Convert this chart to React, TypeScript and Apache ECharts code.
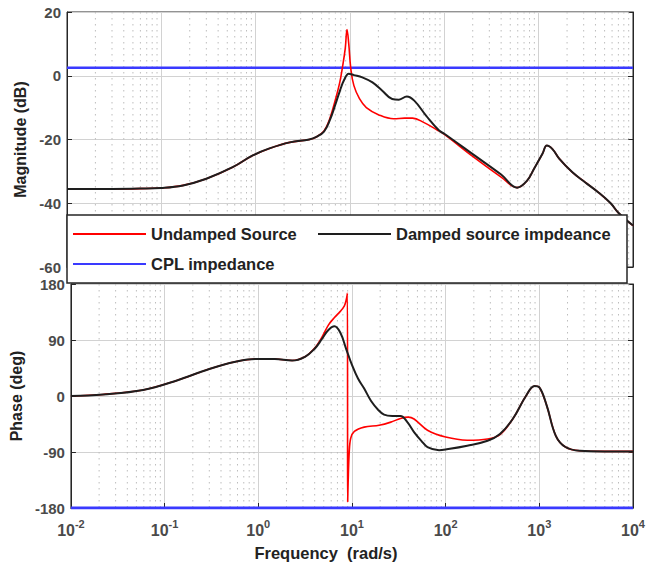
import React, { useEffect, useRef } from "react";
import * as echarts from "echarts";

const FONT = "'Liberation Sans', Arial, Helvetica, sans-serif";

// ---- Magnitude (dB) ----
const magFreqUndamped = [0.01, 0.03, 0.059, 0.1, 0.17, 0.3, 0.57, 0.93, 1.4, 2.3, 3.7, 4.4, 5.3, 6.1, 7.0, 7.8, 8.3, 8.9, 9.3, 9.7, 10.2, 11, 12.6, 14.9, 20, 29, 38, 46, 61, 84, 100, 200, 400, 592, 750, 900, 1100, 1220, 1400, 1650, 2280, 3100, 4300, 5800, 7000, 10000];
const magUndamped = [-35.5, -35.5, -35.4, -35.2, -34.4, -32.3, -28.7, -25.0, -22.8, -20.9, -20.0, -19.2, -17.3, -13.5, -7.5, -2.0, 2.5, 8.5, 14.5, 10.0, 2.2, -3.1, -7.2, -10.0, -12.2, -13.5, -13.3, -13.3, -14.7, -17.0, -18.4, -25.3, -31.8, -35.1, -33.0, -29.0, -24.4, -21.9, -23.0, -26.0, -30.3, -33.4, -36.6, -40.0, -43.0, -47.0];

const magFreqDamped = [0.01, 0.03, 0.059, 0.1, 0.17, 0.3, 0.57, 0.93, 1.4, 2.3, 3.7, 4.4, 5.3, 6.1, 7.0, 7.8, 8.7, 9.7, 11, 13.5, 17.3, 22, 28, 33, 40, 48, 64, 88, 100, 200, 400, 592, 750, 900, 1100, 1220, 1400, 1650, 2280, 3100, 4300, 5800, 7000, 10000];
const magDamped = [-35.5, -35.5, -35.4, -35.2, -34.4, -32.3, -28.7, -25.0, -22.8, -20.9, -20.0, -19.2, -17.5, -14.0, -9.0, -4.8, -1.2, 0.6, 0.2, -0.5, -2.1, -4.7, -7.3, -7.5, -6.5, -7.8, -12.5, -17.2, -18.2, -24.6, -31.0, -35.1, -33.0, -29.0, -24.4, -21.9, -23.0, -26.0, -30.3, -33.4, -36.6, -40.0, -43.0, -47.0];

const cplFreq = [0.01, 10000];
const cplMag = [2.5, 2.5];

// ---- Phase (deg) ----
const phaseFreqUndamped = [0.01, 0.022, 0.059, 0.133, 0.3, 0.57, 0.93, 1.5, 2.3, 3.15, 4.0, 4.8, 5.6, 6.5, 7.5, 8.3, 8.7, 8.95, 9.0, 9.1, 9.35, 9.7, 10.6, 13.5, 19.5, 26, 33, 40, 46, 64, 100, 170, 280, 380, 520, 720, 890, 1000, 1200, 1500, 1900, 2700, 5000, 10000];
const phaseUndamped = [0, 2.5, 9.7, 24.6, 43.4, 55, 59.5, 59.5, 57, 63, 77, 95, 114, 126, 136, 145, 155, 165, -170, -140, -90, -68, -57, -50, -47, -42, -36, -34, -37, -55, -66, -71, -69, -62, -37, 0, 16, 14, -15.5, -64, -82, -88, -89, -89];

const phaseFreqDamped = [0.01, 0.022, 0.059, 0.133, 0.3, 0.57, 0.93, 1.5, 2.3, 3.15, 4.0, 4.8, 5.6, 6.5, 7.5, 8.7, 10, 11.6, 13.5, 16, 19, 22, 27, 33, 39, 46, 55, 64, 85, 100, 170, 280, 380, 520, 720, 890, 1000, 1200, 1500, 1900, 2700, 5000, 10000];
const phaseDamped = [0, 2.5, 9.7, 24.6, 43.4, 55, 59.5, 59.5, 57, 63, 76, 92, 106, 112, 102, 75, 50, 28, 12, -8, -22, -30, -32, -32, -42, -58, -72, -82, -87, -86, -80, -72, -61, -37, 0, 16, 14, -15.5, -64, -82, -88, -89, -89];

const cplPhase = [-180, -180];

// ---- axes ----
const magTicks = { min: -60, max: 20, interval: 20 };
const phaseTicks = { min: -180, max: 180, interval: 90 };
const decadeStarts = [0.01, 0.1, 1, 10, 100, 1000];
const minorMultipliers = [2, 3, 4, 5, 6, 7, 8, 9];

const legendNames = ["Undamped Source", "Damped source impdeance", "CPL impedance"];

const zip = (xs: number[], ys: number[]) => xs.map((x, i) => [x, ys[i]]);

export default function App() {
  const ref = useRef<HTMLDivElement>(null);

  useEffect(() => {
    const chart = echarts.init(ref.current!, null, { renderer: "svg" });

    const minorFreqs: number[] = [];
    decadeStarts.forEach((d) => minorMultipliers.forEach((m) => minorFreqs.push(+(d * m).toPrecision(3))));

    const minorGrid = (xIdx: number, yIdx: number) => ({
      type: "custom",
      xAxisIndex: xIdx,
      yAxisIndex: yIdx,
      silent: true,
      z: 1,
      clip: true,
      data: minorFreqs.map((f) => [f, 0]),
      encode: { x: 0, y: 1 },
      renderItem: (params: any, api: any) => {
        const x = api.coord([api.value(0), 0])[0];
        const cs = params.coordSys;
        return {
          type: "line",
          shape: { x1: x, y1: cs.y, x2: x, y2: cs.y + cs.height },
          style: { stroke: "#bdbdbd", lineWidth: 1, lineDash: [1.5, 4.5] },
        };
      },
    });

    const axisLineStyle = { color: "#262626", width: 1 };
    const splitStyle = { color: "#d2d2d2", width: 1 };
    const yLabel = { fontSize: 15, fontWeight: "bold", color: "#4a4a4a", fontFamily: FONT, margin: 6 };
    const nameStyle = { fontSize: 16, fontWeight: "bold", color: "#222", fontFamily: FONT };

    const xBase = {
      type: "log",
      logBase: 10,
      min: 0.01,
      max: 10000,
      splitNumber: 6,
      axisLine: { show: true, onZero: false, lineStyle: axisLineStyle },
      axisTick: { show: true, inside: true, length: 5, lineStyle: axisLineStyle },
      splitLine: { show: true, lineStyle: splitStyle },
    };

    const yLeft = (grid: number, ticks: any, name: string, gap: number) => ({
      type: "value",
      gridIndex: grid,
      position: "left",
      ...ticks,
      name,
      nameLocation: "middle",
      nameGap: gap,
      nameTextStyle: nameStyle,
      axisLine: { show: true, onZero: false, lineStyle: axisLineStyle },
      axisTick: { show: true, inside: true, length: 5, lineStyle: axisLineStyle },
      axisLabel: yLabel,
      splitLine: { show: true, lineStyle: splitStyle },
    });
    const yRight = (grid: number, ticks: any) => ({
      type: "value",
      gridIndex: grid,
      position: "right",
      ...ticks,
      axisLine: { show: true, onZero: false, lineStyle: axisLineStyle },
      axisTick: { show: true, inside: true, length: 5, lineStyle: axisLineStyle },
      axisLabel: { show: false },
      splitLine: { show: false },
    });

    const lineSeries = (name: string, x: number, y: number, data: number[][], color: string, width: number, z: number, smooth: number) => ({
      name,
      type: "line",
      xAxisIndex: x,
      yAxisIndex: y,
      data,
      symbol: "none",
      showSymbol: false,
      smooth,
      lineStyle: { color, width },
      itemStyle: { color },
      z,
    });

    const legendBase = {
      orient: "horizontal",
      padding: 0,
      icon: "rect",
      itemWidth: 73,
      itemHeight: 2,
      itemGap: 0,
      selectedMode: false,
      z: 60,
      textStyle: { fontSize: 16.5, fontWeight: "bold", color: "#222", fontFamily: FONT, lineHeight: 18 },
    };

    const option: any = {
      animation: false,
      backgroundColor: "#fff",
      textStyle: { fontFamily: FONT },
      grid: [
        { left: 67, top: 12, width: 566, height: 255, show: true, borderColor: "#262626", borderWidth: 1, backgroundColor: "transparent" },
        { left: 67, top: 284, width: 566, height: 224, show: true, borderColor: "#262626", borderWidth: 1, backgroundColor: "transparent" },
      ],
      xAxis: [
        { ...xBase, gridIndex: 0, axisLabel: { show: false } },
        {
          ...xBase,
          gridIndex: 1,
          name: "Frequency  (rad/s)",
          nameLocation: "middle",
          nameGap: 36,
          nameTextStyle: { ...nameStyle, fontSize: 16.5, padding: [0, 52, 0, 0] },
          axisLabel: {
            margin: 10,
            formatter: (v: number) => `{a|10}{b|${Math.round(Math.log10(v))}}`,
            rich: {
              a: { fontSize: 16, fontWeight: "bold", color: "#4a4a4a", fontFamily: FONT, lineHeight: 20, verticalAlign: "bottom" },
              b: { fontSize: 11, fontWeight: "bold", color: "#4a4a4a", fontFamily: FONT, lineHeight: 12, verticalAlign: "top" },
            },
          },
        },
      ],
      yAxis: [
        yLeft(0, magTicks, "Magnitude (dB)", 33),
        yRight(0, magTicks),
        yLeft(1, phaseTicks, "Phase (deg)", 34),
        yRight(1, phaseTicks),
      ],
      legend: [
        { ...legendBase, data: [legendNames[0]], left: 73, top: 225 },
        { ...legendBase, data: [legendNames[1]], left: 318, top: 225 },
        { ...legendBase, data: [legendNames[2]], left: 73, top: 255 },
      ],
      graphic: {
        elements: [
          {
            type: "rect",
            z: 50,
            silent: true,
            shape: { x: 67, y: 215, width: 560, height: 68 },
            style: { fill: "#fff", stroke: "#262626", lineWidth: 1.5 },
          },
        ],
      },
      series: [
        minorGrid(0, 0),
        minorGrid(1, 2),
        lineSeries(legendNames[2], 0, 0, zip(cplFreq, cplMag), "#3a3aff", 2.5, 3, 0),
        lineSeries(legendNames[2], 1, 2, zip(cplFreq, cplPhase), "#3a3aff", 3, 3, 0),
        lineSeries(legendNames[0], 0, 0, zip(magFreqUndamped, magUndamped), "#ff0000", 1.6, 4, 0.4),
        lineSeries(legendNames[0], 1, 2, zip(phaseFreqUndamped, phaseUndamped), "#ff0000", 1.6, 4, 0.35),
        lineSeries(legendNames[1], 0, 0, zip(magFreqDamped, magDamped), "#1e1e1e", 2, 5, 0.4),
        lineSeries(legendNames[1], 1, 2, zip(phaseFreqDamped, phaseDamped), "#1e1e1e", 2, 5, 0.4),
      ],
    };

    chart.setOption(option);
    return () => chart.dispose();
  }, []);

  return (
    <div
      ref={ref}
      style={{ position: "absolute", left: 0, top: 0, width: 662, height: 565, background: "#fff" }}
    />
  );
}
